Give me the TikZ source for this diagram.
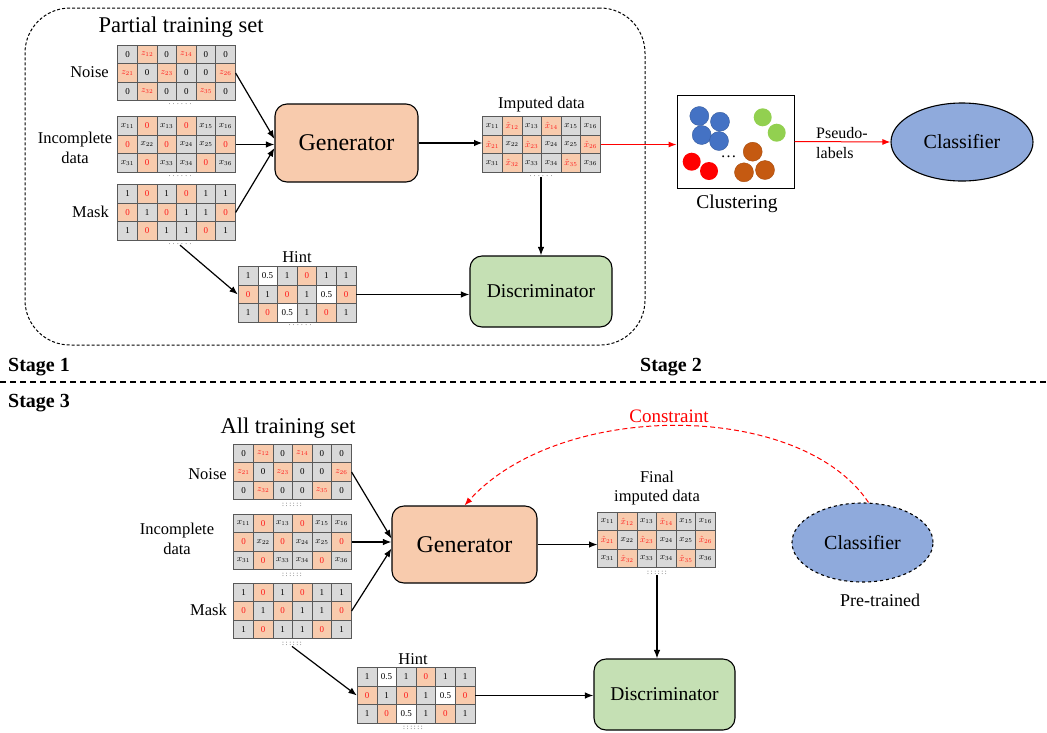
\documentclass[tikz,border=0pt]{standalone}
\usepackage{fontspec}
\setmainfont{Liberation Serif}
\usetikzlibrary{arrows.meta,shapes.geometric}
\definecolor{peach}{HTML}{F8CBAD}
\definecolor{cellgray}{HTML}{D9D9D9}
\definecolor{discgreen}{HTML}{C5E0B4}
\definecolor{clsblue}{HTML}{8FAADC}
\definecolor{dotblue}{HTML}{4472C4}
\definecolor{dotgreen}{HTML}{92D050}
\definecolor{dotbrown}{HTML}{C55A11}
\definecolor{cellred}{HTML}{FF1A1A}

\newcommand\cellgrid[4]{%
  \node[gridbox] (#1) at (#2,#3) {};
  \foreach \ty/\va [count=\i from 0] in #4 {
    \pgfmathtruncatemacro\cc{mod(\i,6)}
    \pgfmathtruncatemacro\rr{floor(\i/6)}
    \node[cell\ty] (#1-\i) at ({#2+(\cc-2.5)*19.6},{#3+(\rr-1)*18.5}) {\va};
  }}
\newcommand\dotrow{.\kern2.4pt.\kern2.4pt.\kern2.4pt.\kern2.4pt.\kern2.4pt.}
\newcommand\dotcolon{:\kern1.6pt:\kern1.6pt:\kern1.6pt:\kern1.6pt:\kern1.6pt:}

\def\noiselist{n/0, o/$z_{12}$, n/0, o/$z_{14}$, n/0, n/0, o/$z_{21}$, n/0, o/$z_{23}$, n/0, n/0, o/$z_{26}$, n/0, o/$z_{32}$, n/0, n/0, o/$z_{35}$, n/0}
\def\inclist{n/$x_{11}$, o/0, n/$x_{13}$, o/0, n/$x_{15}$, n/$x_{16}$, o/0, n/$x_{22}$, o/0, n/$x_{24}$, n/$x_{25}$, o/0, n/$x_{31}$, o/0, n/$x_{33}$, n/$x_{34}$, o/0, n/$x_{36}$}
\def\masklist{n/1, o/0, n/1, o/0, n/1, n/1, o/0, n/1, o/0, n/1, n/1, o/0, n/1, o/0, n/1, n/1, o/0, n/1}
\def\hintlist{n/1, w/0.5, n/1, o/0, n/1, n/1, o/0, n/1, o/0, n/1, w/0.5, o/0, n/1, o/0, w/0.5, n/1, o/0, n/1}
\def\implist{n/$x_{11}$, o/$\hat{x}_{12}$, n/$x_{13}$, o/$\hat{x}_{14}$, n/$x_{15}$, n/$x_{16}$, o/$\hat{x}_{21}$, n/$x_{22}$, o/$\hat{x}_{23}$, n/$x_{24}$, n/$x_{25}$, o/$\hat{x}_{26}$, n/$x_{31}$, o/$\hat{x}_{32}$, n/$x_{33}$, n/$x_{34}$, o/$\hat{x}_{35}$, n/$x_{36}$}

\begin{document}
\begin{tikzpicture}[x=1pt,y=-1pt,
  cell/.style={draw=black!65, line width=0.6pt, minimum width=19.6pt, minimum height=18.5pt, inner sep=0pt, font=\fontsize{9}{10}\selectfont},
  celln/.style={cell, fill=cellgray},
  cello/.style={cell, fill=peach, text=cellred},
  cellw/.style={cell, fill=white},
  gridbox/.style={minimum width=117.6pt, minimum height=55.5pt, inner sep=0pt},
  lab/.style={font=\fontsize{16.5}{20}\selectfont, align=center, inner sep=0pt},
  ttl/.style={font=\fontsize{22.5}{26}\selectfont, inner sep=0pt},
  dotn/.style={font=\fontsize{7}{7}\selectfont, inner sep=0.5pt, text=black!75},
  genbox/.style={draw, line width=1.1pt, rounded corners=12pt, fill=peach, minimum width=143pt, minimum height=78pt, font=\fontsize{24}{28}\selectfont},
  discbox/.style={draw, line width=1.1pt, rounded corners=12pt, fill=discgreen, minimum width=142pt, minimum height=71pt, font=\fontsize{19.5}{23}\selectfont},
  clsell/.style={ellipse, draw, line width=1.1pt, fill=clsblue, minimum width=142pt, minimum height=78pt, inner sep=0pt, font=\fontsize{20}{24}\selectfont},
  arr/.style={-{Latex[length=8.5pt,width=6.5pt]}, line width=1.2pt},
  rarr/.style={-{Latex[length=8pt,width=6pt]}, line width=1pt, red},
  stagel/.style={font=\bfseries\fontsize{20}{24}\selectfont, anchor=west, inner sep=0pt},
]
\useasboundingbox (0,0) rectangle (1047,732);

% ---------- Stage 1 box ----------
\node[draw, line width=1pt, dash pattern=on 3pt off 2pt, rounded corners=45pt, minimum width=620pt, minimum height=337pt] (s1box) at (335,176.5) {};
\node[ttl] (pts) at (181,27) {Partial training set};

\cellgrid{noiseA}{176.5}{73}{\noiselist}
\cellgrid{incA}{176.5}{144.5}{\inclist}
\cellgrid{maskA}{176.5}{212.5}{\masklist}
\cellgrid{hintA}{297}{294.5}{\hintlist}
\cellgrid{impA}{541.5}{144.5}{\implist}

\node[dotn] (noiseAd) at (180,104) {\dotrow};
\node[dotn] (incAd) at (180,176) {\dotrow};
\node[dotn] (maskAd) at (180,244) {\dotrow};
\node[dotn] (hintAd) at (300,325) {\dotrow};
\node[dotn] (impAd) at (541,176) {\dotrow};

\node[lab, anchor=east] (noiseAl) at (109,72) {Noise};
\node[lab] (incAl) at (75,148) {Incomplete\\data};
\node[lab, anchor=east] (maskAl) at (109,212) {Mask};
\node[lab] (hintAl) at (297,257) {Hint};
\node[lab] (impAl) at (541.5,105) {Imputed data};

\node[genbox] (gen1) at (346.5,143) {Generator};
\node[discbox] (disc1) at (541,291.5) {Discriminator};

\draw[arr] (noiseA-11.east) -- ([yshift=4pt]gen1.west);
\draw[arr] (incA-11.east) -- (incA-11.east -| gen1.west);
\draw[arr] (maskA-11.east) -- ([yshift=-5pt]gen1.west);
\draw[arr] (gen1.east) -- (gen1.east -| impA.west);
\draw[arr] (impAd.south) -- (impAd.south |- disc1.north);
\draw[arr] (maskAd.south) -- (hintA-6.west);
\draw[arr] (hintA-11.east) -- (hintA-11.east -| disc1.west);

% ---------- Stage 2 ----------
\node[draw, line width=1pt, minimum width=117pt, minimum height=93pt, inner sep=0pt] (clust) at (735.5,141.5) {};
\foreach \px/\py in {699.3/116, 720/121.7, 701.7/135, 719/141}
  \fill[dotblue, draw=dotblue!80!black, line width=0.4pt] (\px,\py) circle (9.5);
\foreach \px/\py in {762.7/117.3, 776.7/132.7}
  \fill[dotgreen] (\px,\py) circle (9);
\foreach \px/\py in {691.7/161.7, 709/171}
  \fill[red] (\px,\py) circle (9);
\foreach \px/\py in {752.7/151.7, 765/170, 744/172.3}
  \fill[dotbrown, draw=dotbrown!85!black, line width=0.4pt] (\px,\py) circle (9.5);
\node[font=\fontsize{16}{16}\selectfont, inner sep=0pt] (cdots) at (728.5,157) {\dots};
\node[lab, font=\fontsize{19.5}{22}\selectfont] (clustl) at (737,204) {Clustering};

\node[clsell] (cls1) at (962,142) {Classifier};
\draw[rarr] (impA-11.east) -- (impA-11.east -| clust.west);
\draw[rarr] (clust.east) -- (cls1.west);
\node[lab, align=left, anchor=west, font=\fontsize{16}{20}\selectfont] (pseudo) at (816,143) {Pseudo-\\labels};

% ---------- Stage labels ----------
\node[stagel] (st1) at (8,367) {Stage 1};
\node[stagel] (st2) at (640,367) {Stage 2};
\node[stagel] (st3) at (8,403) {Stage 3};
\draw[line width=1.5pt, dash pattern=on 6pt off 4pt] (0,382) -- (1047,382);

% ---------- Stage 3 ----------
\node[ttl] (ats) at (288,428) {All training set};

\cellgrid{noiseB}{292.5}{472}{\noiselist}
\cellgrid{incB}{292.5}{542}{\inclist}
\cellgrid{maskB}{292.5}{611}{\masklist}
\cellgrid{hintB}{416}{695.5}{\hintlist}
\cellgrid{finB}{656.5}{540}{\implist}

\node[dotn] (noiseBd) at (292,505) {\dotcolon};
\node[dotn] (incBd) at (292,575) {\dotcolon};
\node[dotn] (maskBd) at (292,644) {\dotcolon};
\node[dotn] (hintBd) at (413,728) {\dotcolon};
\node[dotn] (finBd) at (657,573) {\dotcolon};

\node[lab, anchor=east] (noiseBl) at (227,474) {Noise};
\node[lab] (incBl) at (177,539) {Incomplete\\data};
\node[lab, anchor=east] (maskBl) at (227,610) {Mask};
\node[lab] (hintBl) at (413,659) {Hint};
\node[lab, font=\fontsize{16.5}{19}\selectfont] (finBl) at (657,488.5) {Final\\imputed data};

\node[genbox, minimum width=145pt, minimum height=77pt] (gen2) at (464.5,544.5) {Generator};
\node[discbox, minimum width=141pt] (disc2) at (664.5,694.5) {Discriminator};
\node[clsell, dashed, minimum width=141pt, minimum height=79pt] (cls2) at (862.5,542.5) {Classifier};
\node[lab, font=\fontsize{18}{20}\selectfont] (pretr) at (880,600) {Pre-trained};

\draw[arr] (noiseB-11.east) -- ([yshift=6pt]gen2.west);
\draw[arr] (incB-11.east) -- (incB-11.east -| gen2.west);
\draw[arr] (maskB-11.east) -- ([yshift=-4pt]gen2.west);
\draw[arr] (gen2.east) -- (gen2.east -| finB.west);
\draw[arr] (finBd.south) -- (finBd.south |- disc2.north);
\draw[arr] (maskBd.south) -- (hintB-6.west);
\draw[arr] (hintB-11.east) -- (hintB-11.east -| disc2.west);

\draw[rarr, dash pattern=on 5pt off 3pt] ([xshift=6pt]cls2.north) .. controls (800,400) and (560,400) .. (gen2.north);
\node[font=\fontsize{19}{22}\selectfont, text=red, inner sep=0pt] (constr) at (669,416) {Constraint};
\end{tikzpicture}
\end{document}
